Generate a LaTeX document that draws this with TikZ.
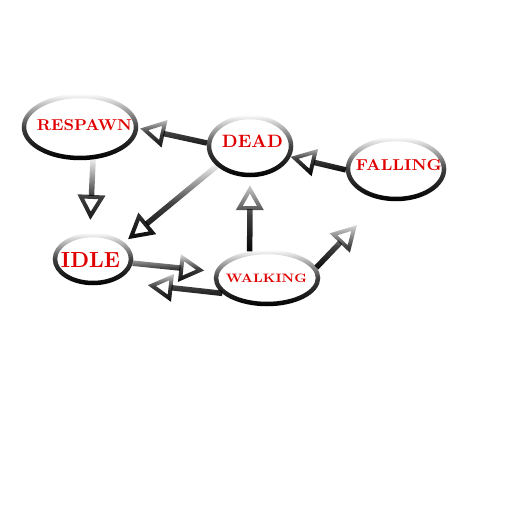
\documentclass[tikz,border=0pt]{standalone}
\usepackage{graphicx}
\usetikzlibrary{shapes.geometric,arrows.meta,fadings}
\tikzfading[name=fadetop, top color=transparent!100, bottom color=transparent!0, middle color=transparent!25]
\begin{document}
\begin{tikzpicture}[x=1pt,y=-1pt,
  state/.style={ellipse, draw=none, inner sep=0pt},
  ring/.style={draw=black, line width=4.5pt, path fading=fadetop},
  lbl/.style={inner sep=0pt, anchor=base, text=red!88!black, font=\bfseries},
  arr/.style={draw=black, line width=5.5pt, path fading=fadetop,
    -{Triangle[open, length=25pt, width=27pt, line width=4pt]}}
]
\fill[white] (0,0) rectangle (511,512);
\useasboundingbox (0,0) rectangle (511,512);

% states (outer size of the rings)
\node[state, minimum width=116pt, minimum height=66pt] (respawn) at (80,127) {};
\node[state, minimum width=86pt, minimum height=62pt] (dead) at (250,146) {};
\node[state, minimum width=100pt, minimum height=64pt] (falling) at (396,169) {};
\node[state, minimum width=80pt, minimum height=52pt] (idle) at (93,259) {};
\node[state, minimum width=106pt, minimum height=56pt] (walking) at (267,278) {};

% rings
\draw[ring] (respawn.center) ellipse (56pt and 31pt);
\draw[ring] (dead.center) ellipse (41pt and 29pt);
\draw[ring] (falling.center) ellipse (48pt and 30pt);
\draw[ring] (idle.center) ellipse (38pt and 24pt);
\draw[ring] (walking.center) ellipse (51pt and 26pt);

% labels
\node[lbl] (respawn-l) at (84.5,130) {\resizebox{95pt}{11pt}{RESPAWN}};
\node[lbl] (dead-l) at (252.5,147) {\resizebox{61pt}{12.5pt}{DEAD}};
\node[lbl] (falling-l) at (399,170) {\resizebox{86pt}{11pt}{FALLING}};
\node[lbl] (idle-l) at (90.5,267) {\resizebox{59pt}{15pt}{IDLE}};
\node[lbl] (walking-l) at (266.5,282) {\resizebox{81pt}{8.5pt}{WALKING}};

\coordinate (fallup) at (357,225);

% transitions (the two leading moves only set the extent of the fading)
\draw[arr, shorten >=13pt] ([shift={(-15pt,1pt)}]respawn.-68) ([shift={(15pt,-63pt)}]respawn.-68) (respawn.-68) -- (idle.97);
\draw[arr, shorten >=5pt] ([shift={(-15pt,2pt)}]dead.211) ([shift={(15pt,-78pt)}]dead.211) (dead.211) -- (idle.28.5);
\draw[arr, shorten >=2pt] ([shift={(-15pt,27pt)}]dead.176) ([shift={(15pt,-7pt)}]dead.176) (dead.176) -- (respawn.-1);
\draw[arr] ([shift={(-15pt,25pt)}]falling.181) ([shift={(15pt,-2pt)}]falling.181) (falling.181) -- (dead.-15);
\draw[arr, shorten >=8pt] ([shift={(-15pt,68pt)}]walking.123) ([shift={(15pt,-1pt)}]walking.123) (walking.123) -- (dead.-90);
\draw[arr] ([shift={(-15pt,45pt)}]walking.12.5) ([shift={(15pt,-3pt)}]walking.12.5) (walking.12.5) -- (fallup);
\draw[arr, shorten >=11pt] ([shift={(-15pt,9pt)}]idle.-6) ([shift={(15pt,-19pt)}]idle.-6) (idle.-6) -- (walking.173);
\draw[arr, shorten >=34pt] ([shift={(-15pt,21pt)}]walking.199) ([shift={(15pt,-7pt)}]walking.199) (walking.199) -- (idle.-47);
\end{tikzpicture}
\end{document}
